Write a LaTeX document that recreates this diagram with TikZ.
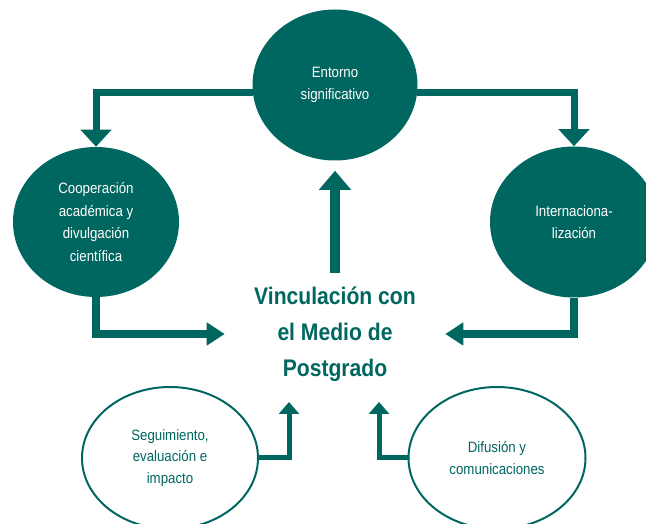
\documentclass[tikz,border=0pt]{standalone}
\usepackage{fontspec}
\setmainfont{Liberation Sans}[FakeStretch=0.88]
\usetikzlibrary{shapes.geometric,arrows.meta}
\definecolor{vmteal}{RGB}{0,102,96}
\tikzset{
  fullnode/.style={ellipse,fill=vmteal,text=white,align=center,inner sep=0pt,
    font=\fontsize{11.3}{17}\selectfont},
  opennode/.style={ellipse,draw=vmteal,line width=1.5pt,fill=white,text=vmteal,
    align=center,inner sep=0pt,font=\fontsize{11.3}{16.2}\selectfont},
  bigarrow/.style={draw=vmteal,line width=5.25pt,-{Triangle[width=22.5pt,length=12.75pt]}},
  sidearrow/.style={draw=vmteal,line width=5.5pt,-{Triangle[width=16.5pt,length=13.5pt]}},
  smallarrow/.style={draw=vmteal,line width=3.75pt,-{Triangle[width=15pt,length=9pt]}}
}
\begin{document}
\begin{tikzpicture}[x=0.75pt,y=0.75pt]
            \useasboundingbox (0,0) rectangle (646,524);
            \node[fullnode,minimum width=123.75pt,minimum height=113.25pt] (entorno) at (335,439) {Entorno\\significativo};
            \node[fullnode,minimum width=124.5pt,minimum height=112.5pt] (coop) at (96,302) {Cooperación\\académica y\\divulgación\\científica};
            \node[fullnode,minimum width=126pt,minimum height=113.25pt] (inter) at (574,302) {Internaciona-\\lización};
            \node[opennode,minimum width=132pt,minimum height=106.5pt] (segui) at (170,66) {Seguimiento,\\evaluación e\\impacto};
            \node[opennode,minimum width=132.75pt,minimum height=106.5pt] (difus) at (497,66) {Difusión y\\comunicaciones};
            \node[text=vmteal,font=\bfseries\fontsize{18}{27}\selectfont,align=center,
                  minimum width=165pt,minimum height=91.5pt,inner sep=0pt] (vinc) at (335,190) {Vinculación con\\el Medio de\\Postgrado};
            \coordinate (tipL) at (289,122);
            \coordinate (tipR) at (379,122);
            \draw[bigarrow] (entorno.185) -| (coop.north);
            \draw[bigarrow] (entorno.-5) -| (inter.north);
            \draw[bigarrow,line width=7.5pt,-{Triangle[width=23.25pt,length=14.25pt]},shorten >=7.5pt] (vinc.north) -- (entorno.south);
            \draw[sidearrow] (coop.south) |- (vinc.west);
            \draw[sidearrow] (inter.south) |- (vinc.east);
            \draw[smallarrow] (segui.east) -| (tipL);
            \draw[smallarrow] (difus.west) -| (tipR);
        \end{tikzpicture}
\end{document}
